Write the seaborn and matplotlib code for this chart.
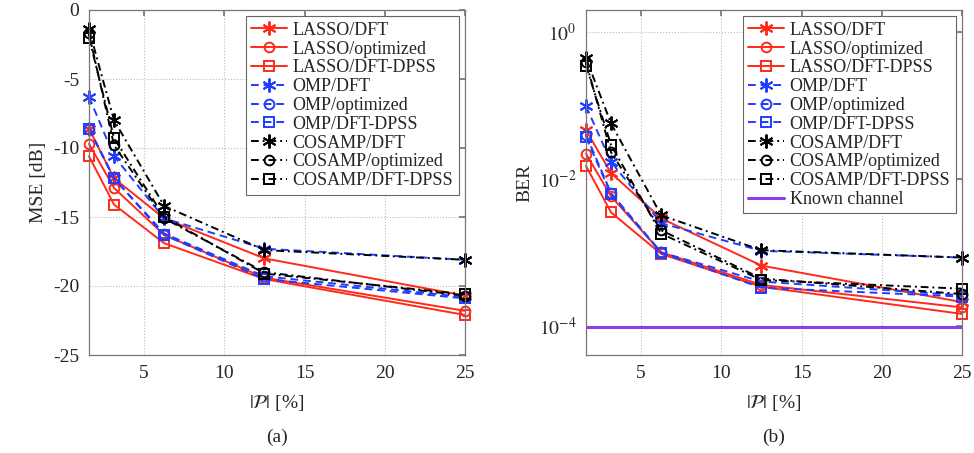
import numpy as np
import pandas as pd
import matplotlib
matplotlib.use("Agg")
import matplotlib.pyplot as plt
import matplotlib.ticker as mticker
import seaborn as sns

sns.set_theme(style="white")
plt.rcParams['font.family'] = ['Liberation Serif', 'DejaVu Serif']
plt.rcParams['mathtext.fontset'] = 'stix'

# ---- data ----
pilots = [1.5625, 3.125, 6.25, 12.5, 25]
series_names = ["LASSO/DFT", "LASSO/optimized", "LASSO/DFT-DPSS",
                "OMP/DFT", "OMP/optimized", "OMP/DFT-DPSS",
                "COSAMP/DFT", "COSAMP/optimized", "COSAMP/DFT-DPSS"]

mse_lasso_dft = [-8.6, -12.2, -15.1, -18.0, -20.7]
mse_lasso_opt = [-9.7, -12.9, -16.3, -19.4, -21.8]
mse_lasso_dpss = [-10.6, -14.1, -16.9, -19.5, -22.1]
mse_omp_dft = [-6.3, -10.6, -15.1, -17.3, -18.1]
mse_omp_opt = [-8.6, -12.2, -16.2, -19.3, -20.8]
mse_omp_dpss = [-8.6, -12.2, -16.3, -19.5, -20.9]
mse_cosamp_dft = [-1.4, -8.0, -14.2, -17.4, -18.1]
mse_cosamp_opt = [-1.7, -9.8, -15.1, -19.0, -20.7]
mse_cosamp_dpss = [-2.0, -9.3, -15.0, -19.1, -20.6]

ber_lasso_dft = [0.046, 0.012, 0.0029, 0.00066, 0.00021]
ber_lasso_opt = [0.022, 0.0058, 0.001, 0.00036, 0.000178]
ber_lasso_dpss = [0.015, 0.0035, 0.00095, 0.00034, 0.000145]
ber_omp_dft = [0.098, 0.017, 0.0025, 0.00105, 0.00085]
ber_omp_opt = [0.040, 0.0064, 0.001, 0.00040, 0.00026]
ber_omp_dpss = [0.037, 0.0062, 0.00098, 0.00033, 0.00025]
ber_cosamp_dft = [0.44, 0.057, 0.0032, 0.00107, 0.00085]
ber_cosamp_opt = [0.39, 0.023, 0.0020, 0.00044, 0.00027]
ber_cosamp_dpss = [0.35, 0.029, 0.0018, 0.00042, 0.00032]
known_channel_ber = 9.5e-5

mse_all = [mse_lasso_dft, mse_lasso_opt, mse_lasso_dpss,
           mse_omp_dft, mse_omp_opt, mse_omp_dpss,
           mse_cosamp_dft, mse_cosamp_opt, mse_cosamp_dpss]
ber_all = [ber_lasso_dft, ber_lasso_opt, ber_lasso_dpss,
           ber_omp_dft, ber_omp_opt, ber_omp_dpss,
           ber_cosamp_dft, ber_cosamp_opt, ber_cosamp_dpss]

# ---- styles ----
RED = "#ff2a1a"
BLUE = "#1f3cff"
BLACK = "#000000"
PURPLE = "#8a3ee6"
AST = (6, 2, 0)
DASH = (0, (4, 2.5))
DASHDOT = (0, (4, 2, 1, 2))
styles = [
    (RED, "-", AST), (RED, "-", "o"), (RED, "-", "s"),
    (BLUE, DASH, AST), (BLUE, DASH, "o"), (BLUE, DASH, "s"),
    (BLACK, DASHDOT, AST), (BLACK, DASHDOT, "o"), (BLACK, DASHDOT, "s"),
]

rows = []
for name, m, b in zip(series_names, mse_all, ber_all):
    for x, mv, bv in zip(pilots, m, b):
        rows.append({"series": name, "P": x, "MSE": mv, "BER": bv})
df = pd.DataFrame(rows)

fig = plt.figure(figsize=(9.74, 4.53), dpi=100)
axA = fig.add_axes([89/974, 1-355/453, 376/974, 345/453])
axB = fig.add_axes([586/974, 1-355/453, 376/974, 345/453])

def draw(ax, col):
    for name, (c, ls, mk) in zip(series_names, styles):
        sub = df[df["series"] == name]
        is_ast = not isinstance(mk, str)
        sns.lineplot(data=sub, x="P", y=col, ax=ax, color=c, linestyle=ls,
                     marker=mk, markersize=10 if is_ast else 7,
                     markerfacecolor="none",
                     markeredgecolor=c, markeredgewidth=1.4,
                     linewidth=1.4, label=name, errorbar=None, clip_on=False)

draw(axA, "MSE")
draw(axB, "BER")
axB.plot([pilots[0], pilots[-1]], [known_channel_ber]*2, color=PURPLE,
         linewidth=2.2, label="Known channel")

for ax in (axA, axB):
    ax.set_xlim(1.5625, 25)
    ax.set_xticks([5, 10, 15, 20, 25])
    ax.grid(True, linestyle=":", color="#bbbbbb", linewidth=0.8)
    for s in ax.spines.values():
        s.set_color("#777777")
        s.set_linewidth(0.9)
    ax.tick_params(direction="in", top=True, right=True, length=4,
                   color="#777777", labelsize=14, pad=7)
    ax.set_xlabel(r"$|\mathcal{P}|$ [%]", fontsize=14, labelpad=8)
    leg = ax.legend(loc="upper right", fontsize=13, frameon=True, fancybox=False,
                    framealpha=1, edgecolor="#666666", handlelength=2.0,
                    borderpad=0.3, labelspacing=0.1, handletextpad=0.3,
                    borderaxespad=0.35)
    leg.get_frame().set_linewidth(0.8)

axA.set_ylim(-25, 0)
axA.set_yticks([0, -5, -10, -15, -20, -25])
axA.yaxis.set_major_formatter(mticker.FuncFormatter(lambda v, p: f"{int(v)}".replace("\u2212", "-")))
axA.set_ylabel("MSE [dB]", fontsize=14)

axB.set_yscale("log")
axB.set_ylim(4e-5, 2)
axB.set_yticks([1e-4, 1e-2, 1e0])
axB.yaxis.set_minor_locator(mticker.NullLocator())
axB.yaxis.set_major_formatter(mticker.FuncFormatter(lambda v, p: r"$10^{%d}$" % round(np.log10(v))))
axB.set_ylabel("BER", fontsize=14)

fig.text((89+465)/2/974, 1-437/453, "(a)", ha="center", va="center", fontsize=14)
fig.text((586+962)/2/974, 1-437/453, "(b)", ha="center", va="center", fontsize=14)

fig.savefig("out.png", dpi=100)
